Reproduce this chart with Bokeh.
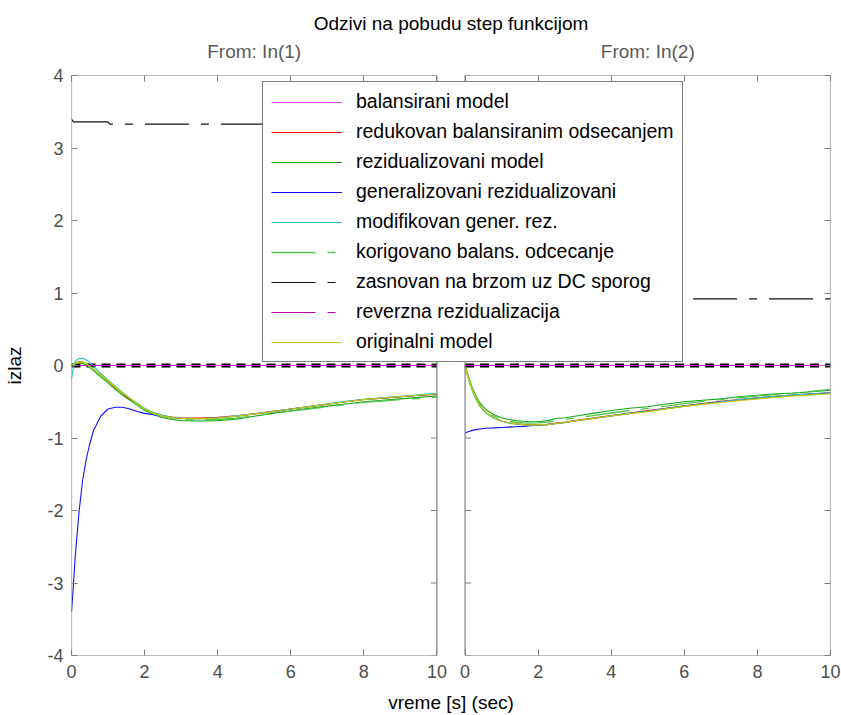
from bokeh.plotting import figure
from bokeh.models import (Range1d, LinearAxis, FixedTicker, Legend, LegendItem,
                          Title, BoxAnnotation)
from bokeh.embed import file_html
from bokeh.resources import INLINE

# ---------------- data ----------------
TITLE = "Odzivi na pobudu step funkcijom"
INPUT_TITLES = ["From: In(1)", "From: In(2)"]
Y_LABEL = "izlaz"
X_LABEL = "vreme [s] (sec)"

X_TICKS = [0, 2, 4, 6, 8, 10]
X_TICK_LABELS = ["0", "2", "4", "6", "8", "10"]
Y_TICKS = [-4, -3, -2, -1, 0, 1, 2, 3, 4]
Y_TICK_LABELS = ["-4", "-3", "-2", "-1", "0", "1", "2", "3", "4"]

SERIES = ["balansirani model", "redukovan balansiranim odsecanjem",
          "rezidualizovani model", "generalizovani rezidualizovani",
          "modifikovan gener. rez.", "korigovano balans. odcecanje",
          "zasnovan na brzom uz DC sporog", "reverzna rezidualizacija",
          "originalni model"]

t = [0.0, 0.05, 0.1, 0.2, 0.3, 0.4, 0.5, 0.6, 0.8, 1.0, 1.2, 1.4, 1.6, 1.8, 2.0,
     2.25, 2.5, 2.75, 3.0, 3.5, 4.0, 4.5, 5.0, 5.5, 6.0, 6.5, 7.0, 7.5, 8.0, 8.5,
     9.0, 9.5, 10.0]
t_flat = [0.0, 10.0]
t_zas1 = [0.0, 0.05, 1.0, 1.05, 10.0]

# From: In(1)
bal_1 = [0.0, 0.0]
red_1 = [0.0, 0.02, 0.035, 0.05, 0.05, 0.025, -0.015, -0.055, -0.14, -0.22, -0.31,
         -0.39, -0.46, -0.53, -0.60, -0.655, -0.69, -0.71, -0.72, -0.725, -0.715,
         -0.695, -0.665, -0.63, -0.60, -0.565, -0.53, -0.50, -0.47, -0.45, -0.43,
         -0.41, -0.40]
rez_1 = [0.0, 0.01, 0.02, 0.03, 0.03, 0.01, -0.03, -0.07, -0.16, -0.24, -0.33,
         -0.41, -0.48, -0.55, -0.62, -0.68, -0.72, -0.745, -0.76, -0.765, -0.76,
         -0.74, -0.70, -0.66, -0.625, -0.59, -0.56, -0.53, -0.50, -0.48, -0.46,
         -0.44, -0.42]
gen_1 = [-3.40, -3.05, -2.65, -2.05, -1.60, -1.30, -1.08, -0.90, -0.70, -0.60,
         -0.575, -0.575, -0.60, -0.635, -0.66, -0.68, -0.70, -0.72, -0.73, -0.735,
         -0.725, -0.70, -0.67, -0.64, -0.60, -0.57, -0.535, -0.50, -0.47, -0.45,
         -0.43, -0.41, -0.39]
mod_1 = [-0.19, -0.02, 0.06, 0.095, 0.10, 0.08, 0.04, -0.01, -0.11, -0.20, -0.29,
         -0.37, -0.45, -0.52, -0.59, -0.65, -0.69, -0.715, -0.725, -0.73, -0.72,
         -0.695, -0.665, -0.635, -0.60, -0.565, -0.53, -0.495, -0.465, -0.445,
         -0.425, -0.405, -0.385]
kor_1 = [0.0, 0.01, 0.025, 0.04, 0.04, 0.02, -0.02, -0.06, -0.15, -0.23, -0.32,
         -0.40, -0.47, -0.54, -0.61, -0.665, -0.705, -0.73, -0.745, -0.75, -0.745,
         -0.725, -0.695, -0.66, -0.63, -0.60, -0.57, -0.54, -0.51, -0.49, -0.47,
         -0.455, -0.44]
zas_1 = [3.40, 3.36, 3.36, 3.33, 3.33]
rev_1 = [0.0, 0.0]
ori_1 = [0.0, 0.015, 0.03, 0.045, 0.05, 0.03, -0.01, -0.05, -0.13, -0.21, -0.30,
         -0.38, -0.45, -0.53, -0.60, -0.66, -0.70, -0.72, -0.73, -0.735, -0.725,
         -0.70, -0.67, -0.64, -0.60, -0.57, -0.535, -0.50, -0.47, -0.45, -0.43,
         -0.41, -0.39]

# From: In(2)
bal_2 = [0.0, 0.0]
red_2 = [-0.02, -0.10, -0.19, -0.34, -0.46, -0.55, -0.61, -0.66, -0.725, -0.77,
         -0.79, -0.805, -0.815, -0.815, -0.815, -0.81, -0.795, -0.78, -0.76, -0.725,
         -0.69, -0.655, -0.62, -0.59, -0.555, -0.525, -0.495, -0.47, -0.445, -0.425,
         -0.405, -0.39, -0.375]
rez_2 = [-0.02, -0.09, -0.17, -0.31, -0.42, -0.51, -0.57, -0.62, -0.68, -0.72,
         -0.745, -0.76, -0.77, -0.775, -0.775, -0.76, -0.73, -0.72, -0.70, -0.66,
         -0.62, -0.59, -0.57, -0.53, -0.50, -0.48, -0.46, -0.43, -0.41, -0.39,
         -0.38, -0.36, -0.34]
gen_2 = [-0.93, -0.92, -0.91, -0.895, -0.885, -0.875, -0.87, -0.865, -0.86, -0.855,
         -0.85, -0.845, -0.84, -0.83, -0.825, -0.815, -0.80, -0.785, -0.765, -0.73,
         -0.695, -0.66, -0.63, -0.595, -0.56, -0.53, -0.50, -0.475, -0.45, -0.43,
         -0.41, -0.395, -0.38]
mod_2 = [-0.02, -0.11, -0.20, -0.35, -0.47, -0.56, -0.62, -0.67, -0.73, -0.77,
         -0.795, -0.81, -0.82, -0.825, -0.82, -0.815, -0.80, -0.785, -0.765, -0.73,
         -0.695, -0.66, -0.63, -0.595, -0.56, -0.53, -0.50, -0.47, -0.445, -0.425,
         -0.405, -0.39, -0.375]
kor_2 = [-0.02, -0.09, -0.18, -0.32, -0.44, -0.53, -0.59, -0.64, -0.70, -0.745,
         -0.77, -0.785, -0.79, -0.795, -0.79, -0.78, -0.765, -0.745, -0.725, -0.69,
         -0.655, -0.62, -0.59, -0.56, -0.525, -0.495, -0.47, -0.445, -0.42, -0.40,
         -0.38, -0.355, -0.33]
zas_2 = [0.92, 0.92]
rev_2 = [0.0, 0.0]
ori_2 = [-0.02, -0.10, -0.19, -0.34, -0.46, -0.55, -0.61, -0.66, -0.72, -0.765,
         -0.79, -0.805, -0.815, -0.82, -0.82, -0.815, -0.80, -0.785, -0.765, -0.73,
         -0.695, -0.665, -0.635, -0.60, -0.565, -0.535, -0.51, -0.485, -0.46, -0.44,
         -0.42, -0.405, -0.39]

zero_ref = [0.0, 0.0]

# ---------------- styles ----------------
FONT = "Liberation Sans"
AX_COL = "#7f7f7f"
TICK_TXT = "#4d4d4d"
XLIM = (0.0, 10.0)
YLIM = (-4.0, 4.0)
GAP = 0.77           # blank space between the two panels (time units)
SPAN = XLIM[1] - XLIM[0]
W, H = 841, 715
BL, BR, BT, BB = 71, 11, 75, 60
DASHDOT = "44 12 8 12"

STYLE = {
    "bal": dict(line_color="#f040f0", line_width=1.2),
    "red": dict(line_color="#ff0000", line_width=1.1),
    "rez": dict(line_color="#14a814", line_width=1.1),
    "gen": dict(line_color="#1010ff", line_width=1.1),
    "mod": dict(line_color="#20c8c8", line_width=1.1),
    "kor": dict(line_color="#50c850", line_width=1.3, line_dash=DASHDOT),
    "zas": dict(line_color="#111111", line_width=1.2, line_dash=DASHDOT),
    "rev": dict(line_color="#c000c0", line_width=1.2, line_dash=DASHDOT),
    "ori": dict(line_color="#c8c800", line_width=1.2),
}
KEYS = ["bal", "red", "rez", "gen", "mod", "kor", "zas", "rev", "ori"]

panel_data = [
    {"bal": (t_flat, bal_1), "red": (t, red_1), "rez": (t, rez_1), "gen": (t, gen_1),
     "mod": (t, mod_1), "kor": (t, kor_1), "zas": (t_zas1, zas_1),
     "rev": (t_flat, rev_1), "ori": (t, ori_1)},
    {"bal": (t_flat, bal_2), "red": (t, red_2), "rez": (t, rez_2), "gen": (t, gen_2),
     "mod": (t, mod_2), "kor": (t, kor_2), "zas": (t_flat, zas_2),
     "rev": (t_flat, rev_2), "ori": (t, ori_2)},
]

# ---------------- figure ----------------
p = figure(width=W, height=H, output_backend="svg", toolbar_location=None,
           x_range=Range1d(XLIM[0], XLIM[0] + 2 * SPAN + GAP),
           y_range=Range1d(*YLIM), x_axis_type=None, y_axis_type=None,
           min_border_left=BL, min_border_right=BR, min_border_top=BT,
           min_border_bottom=BB, outline_line_color=None,
           background_fill_color="white", border_fill_color="white")
p.extra_x_ranges = {"r": Range1d(XLIM[0] - SPAN - GAP, XLIM[1])}
RANGE_NAMES = ["default", "r"]

right_off = SPAN + GAP
xt_pos = [float(v) for v in X_TICKS] + [v + right_off for v in X_TICKS]
xt_lab = {float(v): s for v, s in zip(X_TICKS, X_TICK_LABELS)}
xt_lab.update({v + right_off: s for v, s in zip(X_TICKS, X_TICK_LABELS)})


def style_axis(ax):
    ax.axis_line_color = None
    ax.major_tick_in = 6
    ax.major_tick_out = 0
    ax.minor_tick_line_color = None
    ax.major_tick_line_color = AX_COL
    ax.major_label_text_font = FONT
    ax.major_label_text_font_size = "18px"
    ax.major_label_text_color = TICK_TXT
    ax.major_label_text_line_height = 1.0
    ax.axis_label_text_font = FONT
    ax.axis_label_text_font_size = "19px"
    ax.axis_label_text_font_style = "normal"
    ax.axis_label_text_color = "#000000"
    ax.axis_label_text_line_height = 1.0


bottom = LinearAxis(ticker=FixedTicker(ticks=xt_pos), major_label_overrides=xt_lab,
                    axis_label=X_LABEL)
style_axis(bottom)
bottom.major_label_standoff = 9
bottom.axis_label_standoff = 11
p.add_layout(bottom, "below")

# tick marks along the top edges (no labels)
top = LinearAxis(ticker=FixedTicker(ticks=xt_pos),
                 major_label_overrides={k: " " for k in xt_pos})
style_axis(top)
top.major_label_text_font_size = "1px"
top.major_label_standoff = 0
p.add_layout(top, "above")

# input headers above each panel
hdr_pos = [(XLIM[0] + XLIM[1]) / 2, (XLIM[0] + XLIM[1]) / 2 + right_off]
hdr = LinearAxis(ticker=FixedTicker(ticks=hdr_pos),
                 major_label_overrides={k: s for k, s in zip(hdr_pos, INPUT_TITLES)})
style_axis(hdr)
hdr.major_tick_in = 0
hdr.major_tick_line_color = None
hdr.major_label_text_font_size = "19px"
hdr.major_label_text_color = "#5a5a5a"
hdr.major_label_standoff = 10
p.add_layout(hdr, "above")

p.add_layout(Title(text=TITLE, align="center", text_font=FONT, text_font_size="19px",
                   text_font_style="normal", text_color="#000000", standoff=8),
             "above")

left = LinearAxis(ticker=FixedTicker(ticks=Y_TICKS),
                  major_label_overrides={float(v): s for v, s in zip(Y_TICKS, Y_TICK_LABELS)},
                  axis_label=Y_LABEL)
style_axis(left)
left.major_label_standoff = 8
left.axis_label_standoff = 19
p.add_layout(left, "left")

right = LinearAxis(ticker=FixedTicker(ticks=Y_TICKS),
                   major_label_overrides={float(v): " " for v in Y_TICKS})
style_axis(right)
right.major_label_text_font_size = "1px"
right.major_label_standoff = 0
p.add_layout(right, "right")

# inner tick marks on the facing edges of the two panels
frame_w = W - BL - BR
tick_dx = 6 * (2 * SPAN + GAP) / frame_w
n = len(Y_TICKS)
p.segment(x0=[XLIM[1]] * n, y0=Y_TICKS, x1=[XLIM[1] - tick_dx] * n, y1=Y_TICKS,
          line_color=AX_COL, line_width=1)
p.segment(x0=[XLIM[0]] * n, y0=Y_TICKS, x1=[XLIM[0] + tick_dx] * n, y1=Y_TICKS,
          line_color=AX_COL, line_width=1, x_range_name="r")

# panel boxes
for rn in RANGE_NAMES:
    p.add_layout(BoxAnnotation(left=XLIM[0], right=XLIM[1], bottom=YLIM[0], top=YLIM[1],
                               fill_alpha=0, line_color=AX_COL, line_width=1.2,
                               line_alpha=1, x_range_name=rn))

# curves
legend_renderers = {}
for pi, rn in enumerate(RANGE_NAMES):
    p.line(t_flat, zero_ref, line_color="#000000", line_width=4, line_dash="9 6",
           x_range_name=rn)
    for k in KEYS:
        xs, ys = panel_data[pi][k]
        r = p.line(xs, ys, x_range_name=rn, **STYLE[k])
        if pi == 0:
            legend_renderers[k] = r

legend = Legend(items=[LegendItem(label=lab, renderers=[legend_renderers[k]])
                       for lab, k in zip(SERIES, KEYS)],
                location=(191, 293), orientation="vertical",
                label_text_font=FONT, label_text_font_size="19.5px",
                label_text_color="#000000",
                glyph_width=71, glyph_height=20, label_height=20,
                spacing=7, padding=8, label_standoff=14, margin=0,
                border_line_color="#000000", border_line_width=1.2,
                background_fill_color="white", background_fill_alpha=1.0)
p.add_layout(legend)

open("out.html", "w").write(file_html(p, INLINE))
